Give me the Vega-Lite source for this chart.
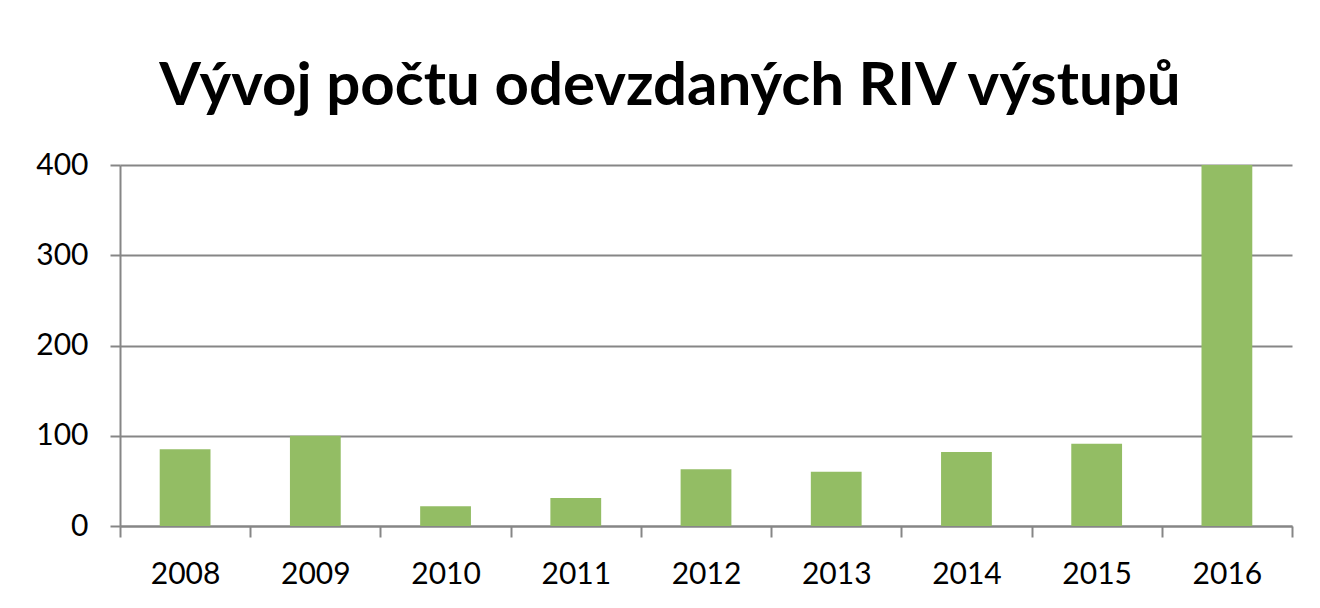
{
  "$schema": "https://vega.github.io/schema/vega-lite/v6.json",
  "width": 1172,
  "height": 361,
  "autosize": {"type": "none"},
  "padding": {"left": 120, "top": 165, "right": 28, "bottom": 82},
  "background": "white",
  "title": {
    "text": "Vývoj počtu odevzdaných RIV výstupů",
    "font": "Lato",
    "fontSize": 60,
    "fontWeight": "bold",
    "color": "#000000",
    "anchor": "middle",
    "frame": "group",
    "baseline": "alphabetic",
    "offset": -15,
    "dx": -36
  },
  "data": {
    "values": [
      {"rok": "2008", "pocet": 85},
      {"rok": "2009", "pocet": 100},
      {"rok": "2010", "pocet": 22},
      {"rok": "2011", "pocet": 31},
      {"rok": "2012", "pocet": 63},
      {"rok": "2013", "pocet": 60},
      {"rok": "2014", "pocet": 82},
      {"rok": "2015", "pocet": 91},
      {"rok": "2016", "pocet": 400}
    ]
  },
  "mark": {"type": "bar", "color": "#93bd64", "width": {"band": 0.39}},
  "encoding": {
    "x": {
      "field": "rok",
      "type": "ordinal",
      "scale": {"paddingInner": 0, "paddingOuter": 0},
      "axis": {
        "title": null,
        "labelAngle": 0,
        "tickBand": "extent",
        "labelFont": "Lato",
        "labelFontSize": 30,
        "labelColor": "#000000",
        "labelPadding": 22,
        "tickSize": 11,
        "tickColor": "#868686",
        "tickWidth": 2,
        "domainColor": "#868686",
        "domainWidth": 2,
        "grid": false
      }
    },
    "y": {
      "field": "pocet",
      "type": "quantitative",
      "scale": {"domain": [0, 400], "nice": false},
      "axis": {
        "title": null,
        "values": [0, 100, 200, 300, 400],
        "labelFont": "Lato",
        "labelFontSize": 30,
        "labelColor": "#000000",
        "labelPadding": 22,
        "tickSize": 10,
        "tickColor": "#868686",
        "tickWidth": 2,
        "domainColor": "#868686",
        "domainWidth": 2,
        "grid": true,
        "gridColor": "#868686",
        "gridWidth": 2
      }
    }
  },
  "config": {"view": {"stroke": null}}
}
